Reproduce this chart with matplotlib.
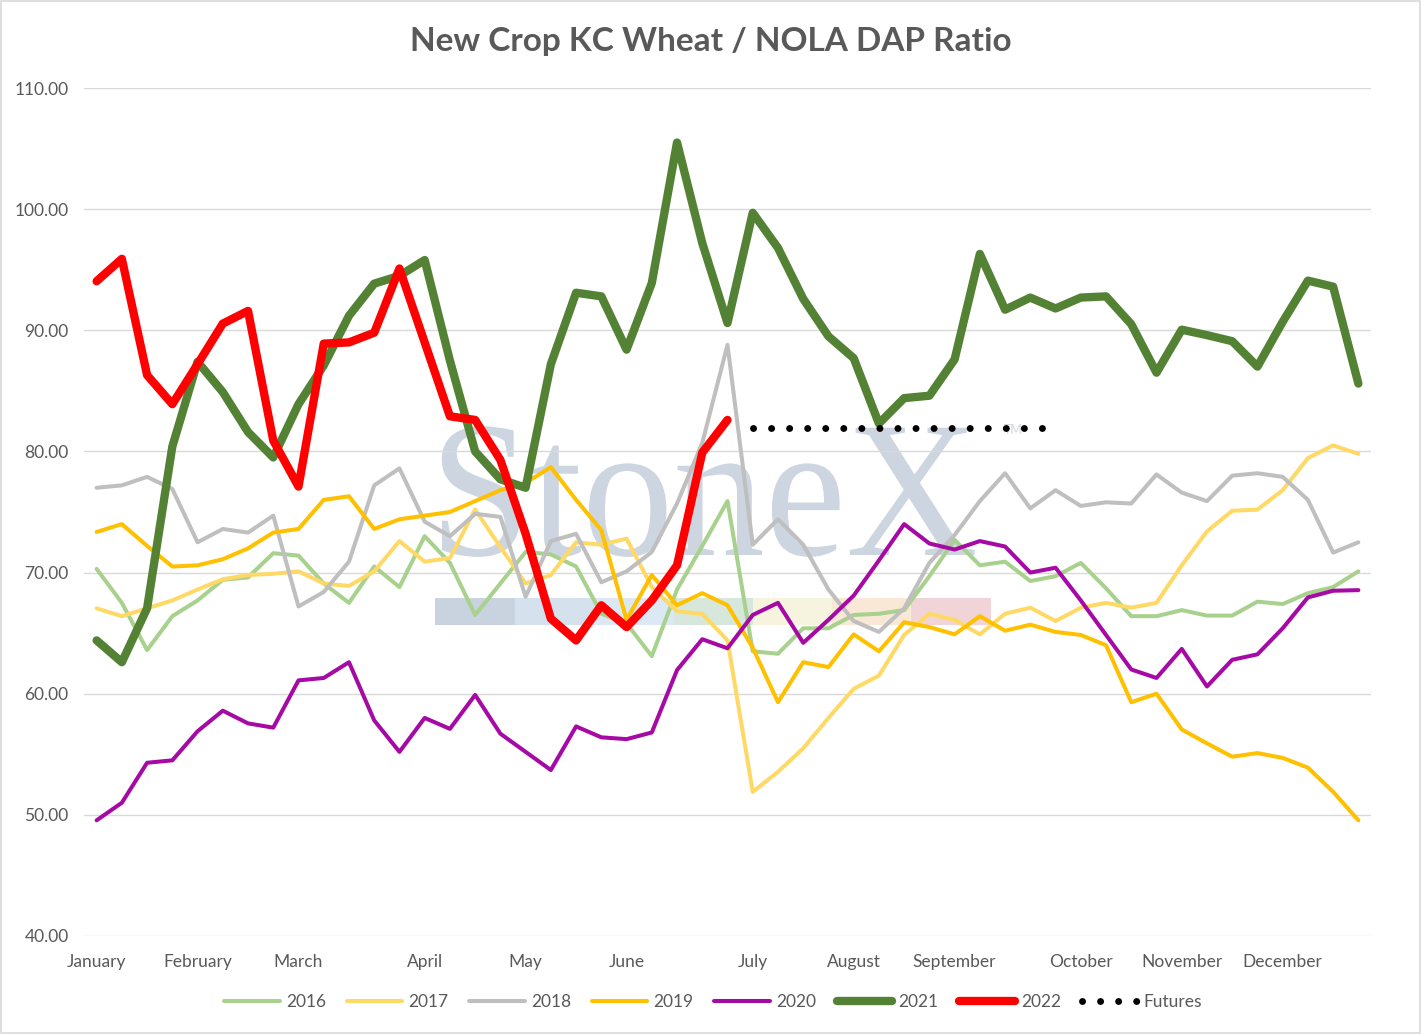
import matplotlib
matplotlib.use("Agg")
import matplotlib.pyplot as plt
import numpy as np
from matplotlib.patheffects import AbstractPathEffect
from matplotlib.transforms import Affine2D
from matplotlib.patches import Rectangle

# ---------------- data ----------------
month_labels = ["January", "February", "March", "April", "May", "June", "July",
                "August", "September", "October", "November", "December"]
month_week = [0, 4, 8, 13, 17, 21, 26, 30, 34, 39, 43, 47]

y2016 = [70.3, 67.5, 63.6, 66.4, 67.7, 69.4, 69.6, 71.6, 71.4, 69.1, 67.5, 70.5, 68.8,
         73.0, 70.8, 66.5, 69.1, 71.7, 71.5, 70.5, 66.6, 65.8, 63.1, 68.6, 72.2, 75.9,
         63.5, 63.3, 65.4, 65.4, 66.5, 66.6, 66.9, 69.7, 72.7, 70.6, 70.9, 69.3, 69.7,
         70.8, 68.7, 66.4, 66.4, 66.9, 66.45, 66.45, 67.6, 67.4, 68.3, 68.8, 70.1]
y2017 = [67.05, 66.4, 67.05, 67.7, 68.6, 69.45, 69.8, 69.9, 70.1, 69.1, 68.9, 70.1, 72.6,
         70.9, 71.2, 75.2, 72.1, 69.1, 69.8, 72.5, 72.3, 72.8, 68.8, 66.8, 66.6, 64.4,
         51.9, 53.55, 55.5, 58.0, 60.4, 61.5, 64.85, 66.6, 66.1, 64.9, 66.6, 67.1, 66.0,
         67.1, 67.5, 67.1, 67.5, 70.6, 73.4, 75.1, 75.2, 76.8, 79.45, 80.5, 79.8]
y2018 = [77.0, 77.2, 77.9, 76.9, 72.5, 73.6, 73.3, 74.7, 67.2, 68.4, 70.9, 77.2, 78.6,
         74.2, 73.0, 74.85, 74.6, 68.0, 72.6, 73.2, 69.2, 70.1, 71.7, 75.7, 80.7, 88.8,
         72.3, 74.4, 72.3, 68.6, 66.0, 65.1, 67.05, 70.8, 73.1, 75.9, 78.2, 75.3, 76.8,
         75.5, 75.8, 75.7, 78.1, 76.6, 75.9, 78.0, 78.2, 77.9, 76.0, 71.65, 72.5]
y2019 = [73.35, 74.0, 72.2, 70.5, 70.6, 71.1, 72.0, 73.3, 73.6, 76.0, 76.3, 73.6, 74.4,
         74.7, 75.0, 75.9, 76.8, 77.4, 78.7, 76.0, 73.5, 66.1, 69.8, 67.3, 68.3, 67.3,
         63.8, 59.3, 62.6, 62.2, 64.9, 63.5, 65.9, 65.5, 64.9, 66.4, 65.2, 65.7, 65.1,
         64.85, 64.0, 59.3, 60.0, 57.05, 55.9, 54.8, 55.1, 54.7, 53.9, 51.9, 49.55]
y2020 = [49.55, 51.0, 54.3, 54.5, 56.9, 58.6, 57.55, 57.2, 61.1, 61.3, 62.6, 57.8, 55.2,
         58.0, 57.1, 59.9, 56.7, 55.2, 53.7, 57.3, 56.4, 56.25, 56.8, 61.95, 64.5, 63.75,
         66.5, 67.5, 64.2, 66.1, 68.1, 71.0, 74.0, 72.4, 71.9, 72.6, 72.15, 70.0, 70.4,
         67.7, 64.85, 62.0, 61.3, 63.7, 60.6, 62.8, 63.25, 65.4, 67.95, 68.5, 68.55]
y2021 = [64.4, 62.6, 67.05, 80.4, 87.4, 84.9, 81.6, 79.5, 83.9, 87.1, 91.2, 93.85, 94.5,
         95.8, 87.5, 80.0, 77.7, 77.0, 87.2, 93.1, 92.8, 88.4, 93.9, 105.5, 97.2, 90.6,
         99.7, 96.8, 92.6, 89.5, 87.7, 82.3, 84.4, 84.6, 87.6, 96.3, 91.7, 92.7, 91.8,
         92.7, 92.8, 90.5, 86.5, 90.05, 89.6, 89.1, 87.0, 90.7, 94.1, 93.6, 85.6]
y2022 = [94.05, 95.9, 86.3, 83.9, 87.2, 90.55, 91.6, 80.9, 77.1, 88.9, 89.0, 89.8, 95.1,
         89.0, 82.9, 82.6, 79.3, 73.2, 66.2, 64.4, 67.3, 65.5, 67.7, 70.6, 79.9, 82.6]
futures_start = 26
futures = [81.9] * 13

y_ticks = [40, 50, 60, 70, 80, 90, 100, 110]

series = [
    ("2016", y2016, "#a9d18e", 2.9),
    ("2017", y2017, "#ffd966", 2.9),
    ("2018", y2018, "#bfbfbf", 2.9),
    ("2019", y2019, "#ffc000", 2.9),
    ("2020", y2020, "#a50aa5", 2.9),
    ("2021", y2021, "#548235", 6.0),
    ("2022", y2022, "#ff0000", 6.0),
]

TEXT = "#595959"
FONT = ["Lato", "DejaVu Sans"]
plt.rcParams["font.family"] = FONT


class HStretch(AbstractPathEffect):
    """Horizontally condense a text path about its centre."""
    def __init__(self, sx):
        super().__init__()
        self.sx = sx

    def draw_path(self, renderer, gc, tpath, affine, rgbFace=None):
        ext = tpath.get_extents(affine)
        cx = 0.5 * (ext.x0 + ext.x1)
        new = affine + Affine2D().translate(-cx, 0).scale(self.sx, 1).translate(cx, 0)
        renderer.draw_path(gc, tpath, new, rgbFace)


W, H = 1421, 1034
fig = plt.figure(figsize=(W / 100, H / 100), dpi=100)
ax = fig.add_axes([84 / W, 1 - 936 / H, (1371 - 84) / W, (936 - 88) / H])

# watermark decoration (behind gridlines)
seg_edges = [434, 514, 593, 673, 753, 832, 911, 991]
seg_cols = ["#c9d3df", "#d5e2ee", "#dce9f4", "#d8e7db", "#f6f4de", "#f8e8d5", "#f0d4d7"]
to_x = lambda px: (px - 96) / 25.24
to_y = lambda py: 40 + (936 - py) / 12.114
for i in range(len(seg_cols)):
    ax.add_patch(Rectangle((to_x(seg_edges[i]), to_y(625)),
                           to_x(seg_edges[i + 1]) - to_x(seg_edges[i]),
                           to_y(598) - to_y(625),
                           facecolor=seg_cols[i], edgecolor="none", zorder=0.2))
wm = ax.text(to_x(703), to_y(555), "StoneX", family="Liberation Serif", fontsize=140,
             color="#cdd6e0", ha="center", va="baseline", zorder=0.3)
wm.set_path_effects([HStretch(0.94)])
ax.text(to_x(1003), to_y(430), "TM", fontsize=9, color="#cdd6e0", ha="left",
        va="center", zorder=0.3, family=FONT)

weeks = np.arange(51)
for name, vals, col, lw in series:
    ax.plot(weeks[:len(vals)], vals, color=col, lw=lw, label=name,
            solid_capstyle="round", solid_joinstyle="round", zorder=2)
fx = np.arange(futures_start, futures_start + len(futures))
ax.plot(fx, futures, color="black", lw=5.0, linestyle=(0, (0.01, 2.59)),
        dash_capstyle="round", label="Futures", zorder=3)

ax.set_xlim(-0.5, 50.5)
ax.set_ylim(40, 110)
ax.set_yticks(y_ticks)
ax.set_yticklabels([f"{v:.2f}" for v in y_ticks])
ax.set_xticks(month_week)
ax.set_xticklabels(month_labels)
ax.tick_params(axis="both", length=0, labelsize=12.5, labelcolor=TEXT)
ax.tick_params(axis="y", pad=11)
ax.tick_params(axis="x", pad=13)
ax.set_axisbelow(True)
ax.yaxis.grid(True, color="#d9d9d9", lw=1.0)
ax.xaxis.grid(False)
for s in ax.spines.values():
    s.set_visible(False)

fig.text(711 / W, 1 - 42 / H, "New Crop KC Wheat / NOLA DAP Ratio", ha="center",
         va="center", fontsize=24.0, fontweight="bold", color=TEXT)

leg = ax.legend(loc="center", bbox_to_anchor=(713 / W, 1 - 1002 / H),
                bbox_transform=fig.transFigure, ncol=8, frameon=False,
                fontsize=12.5, handlelength=3.2, handletextpad=0.35,
                columnspacing=1.2)
for t in leg.get_texts():
    t.set_color(TEXT)

fig.add_artist(Rectangle((0.0007, 0.001), 0.9986, 0.998, transform=fig.transFigure,
                         fill=False, edgecolor="#d9d9d9", lw=1.2))

fig.savefig("out.png", dpi=100)
